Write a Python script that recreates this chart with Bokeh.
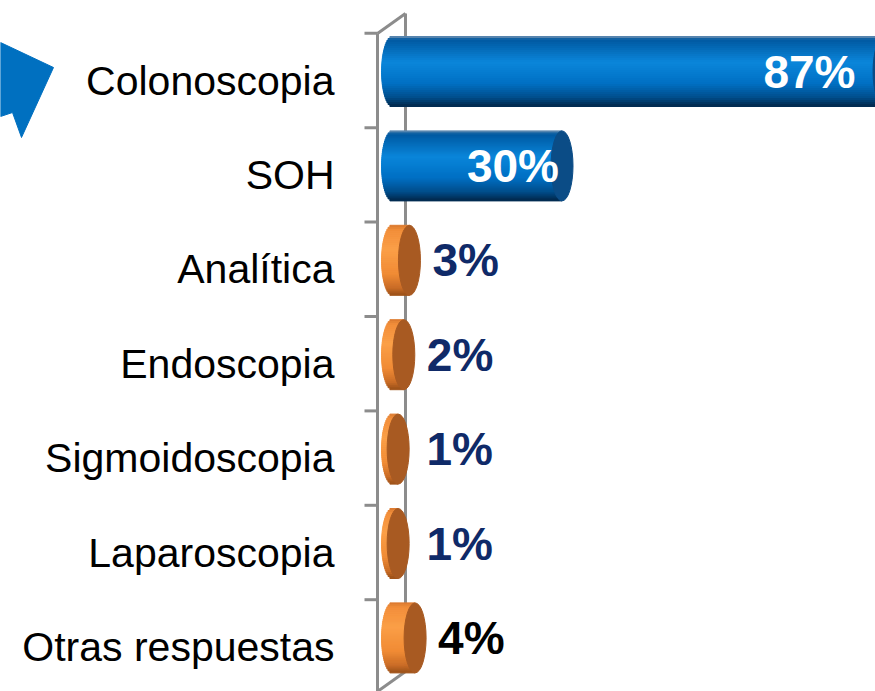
import numpy as np
from bokeh.plotting import figure
from bokeh.models import Range1d
from bokeh.core.properties import value
from bokeh.embed import file_html
from bokeh.resources import INLINE

# ---------------- data ----------------
categories = ["Colonoscopia", "SOH", "Analítica", "Endoscopia",
              "Sigmoidoscopia", "Laparoscopia", "Otras respuestas"]
values = [87, 30, 3, 2, 1, 1, 4]
value_labels = ["87%", "30%", "3%", "2%", "1%", "1%", "4%"]
series_group = ["blue", "blue", "orange", "orange", "orange", "orange", "orange"]
label_colors = ["white", "white", "#0f2a68", "#0f2a68", "#0f2a68", "#0f2a68", "black"]

# ---------------- layout helpers (reference pixel -> data) ----------------
FRAME_W, FRAME_H = 875, 691
OFF = 0                         # screen offset of the frame
X0_REF, S = 392.0, 5.65        # ref pixel of 0 %, pixels per %
Y0_REF, SLOT = 80.0, 94.4      # ref pixel of first category centre, slot height


def xd(X):
    return (X - X0_REF) / S


def yd(Y):
    return (Y - Y0_REF) / SLOT


p = figure(width=FRAME_W, height=FRAME_H, output_backend="svg", toolbar_location=None,
           x_range=Range1d(xd(OFF), xd(OFF + FRAME_W)),
           y_range=Range1d(start=yd(OFF + FRAME_H), end=yd(OFF)),
           x_axis_location=None, y_axis_location=None, min_border=0)
p.grid.visible = False
p.outline_line_color = None
p.background_fill_color = "white"
p.border_fill_color = "white"

GRAY = "#8c8c8c"

# back wall line and 3D edges
p.segment(x0=[xd(405)], y0=[yd(13)], x1=[xd(405)], y1=[yd(671)], line_color=GRAY, line_width=3)
p.segment(x0=[xd(377), xd(377)], y0=[yd(33), yd(691)], x1=[xd(405), xd(405)], y1=[yd(13), yd(671)],
          line_color=GRAY, line_width=3)
# front axis line
p.segment(x0=[xd(377)], y0=[yd(33)], x1=[xd(377)], y1=[yd(700)], line_color=GRAY, line_width=3)
# ticks at category boundaries
n = len(categories)
tick_y = [i - 0.5 for i in range(n + 1)]
p.segment(x0=[xd(364)] * len(tick_y), y0=tick_y, x1=[xd(377)] * len(tick_y), y1=tick_y,
          line_color=GRAY, line_width=3)


# ---------------- cylinders ----------------
def hex2rgb(h):
    h = h.lstrip("#")
    return np.array([int(h[i:i + 2], 16) for i in (0, 2, 4)], dtype=float)


def grad(stops, t):
    ts = [s[0] for s in stops]
    cs = [hex2rgb(s[1]) for s in stops]
    for k in range(len(ts) - 1):
        if ts[k] <= t <= ts[k + 1]:
            f = (t - ts[k]) / (ts[k + 1] - ts[k])
            c = cs[k] * (1 - f) + cs[k + 1] * f
            return "#%02x%02x%02x" % tuple(int(round(v)) for v in c)
    return stops[-1][1]


STOPS = {
    "blue": [(-1.0, "#7896b4"), (-0.9, "#0058a0"), (-0.25, "#0a86da"),
             (0.35, "#0070c4"), (0.75, "#004e8c"), (1.0, "#02284a")],
    "orange": [(-1.0, "#d9782f"), (-0.85, "#f28e3a"), (-0.3, "#fb9f47"),
               (0.4, "#f08b35"), (0.8, "#c96c26"), (1.0, "#9a5018")],
}
CAP = {"blue": "#0b4c86", "orange": "#a85a22"}

BAR_SHIFT = -9.0 / SLOT         # bars sit a little above slot centre (3D view)
HALF_H_PX = 35.0
HALF_H = HALF_H_PX / SLOT
A = 11.0 / S                    # half width of end ellipses in data units
N = 35

sy, sl, sr, sc = [], [], [], []
for i, (v, g) in enumerate(zip(values, series_group)):
    yc = i + BAR_SHIFT
    for k in range(N):
        t = -1 + (2 * k + 1) / N
        sy.append(yc + t * HALF_H)
        sl.append(-A * np.sqrt(max(0.0, 1 - t * t)))
        sr.append(v)
        sc.append(grad(STOPS[g], t))
p.hbar(y=sy, left=sl, right=sr, height=2 * HALF_H / N, fill_color=sc, line_color=sc, line_width=1)

cap_y = [i + BAR_SHIFT for i in range(n)]
p.ellipse(x=values, y=cap_y, width=22, height=2 * HALF_H_PX, width_units="screen",
          height_units="screen", fill_color=[CAP[g] for g in series_group],
          line_color=[CAP[g] for g in series_group], line_width=1)

# ---------------- texts ----------------
p.text(x=[xd(334)] * n, y=list(range(n)), text=categories, text_font=value("Liberation Sans"),
       text_font_size="41px", text_color="black", text_align="right", text_baseline="middle")

in_x, in_y, in_t, in_c = [], [], [], []
out_x, out_y, out_t, out_c = [], [], [], []
for i, (v, g) in enumerate(zip(values, series_group)):
    yc = i + BAR_SHIFT
    if g == "blue":
        in_x.append(min(v - 3.0 / S, xd(855)))
        in_y.append(yc)
        in_t.append(value_labels[i])
        in_c.append(label_colors[i])
    else:
        out_x.append(max(v + 23.0 / S, xd(426)))
        out_y.append(yc)
        out_t.append(value_labels[i])
        out_c.append(label_colors[i])

p.text(x=in_x, y=in_y, text=in_t, text_color=in_c, text_font=value("Liberation Sans"),
       text_font_style="bold", text_font_size="46px", text_align="right", text_baseline="middle")
p.text(x=out_x, y=out_y, text=out_t, text_color=out_c, text_font=value("Liberation Sans"),
       text_font_style="bold", text_font_size="46px", text_align="left", text_baseline="middle")

# ---------------- decorative arrow (top-left) ----------------
arrow_px = [(0, 42), (53, 67), (21, 137), (12, 112), (0, 116)]
p.patch(x=[xd(X) for X, _ in arrow_px], y=[yd(Y) for _, Y in arrow_px],
        fill_color="#0070c0", line_color="#0070c0")

open("out.html", "w").write(file_html(p, INLINE))
